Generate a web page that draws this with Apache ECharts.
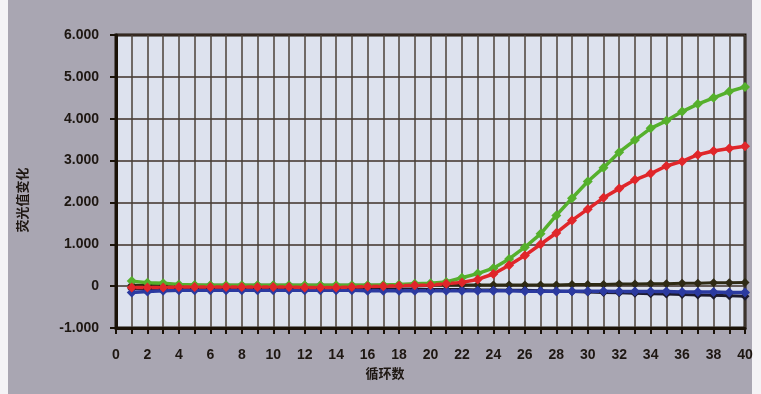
<!DOCTYPE html>
<html>
<head>
<meta charset="utf-8">
<script src="https://cdn.jsdelivr.net/npm/echarts@6/dist/echarts.min.js"></script>
<style>
  html, body { margin: 0; padding: 0; background: #fff; }
  #chart { width: 761px; height: 394px; }
</style>
</head>
<body>
<div id="chart"></div>
<script>
// cycle numbers (x) and fluorescence change per well (y)
const cycles = [1, 2, 3, 4, 5, 6, 7, 8, 9, 10, 11, 12, 13, 14, 15, 16, 17, 18, 19, 20,
  21, 22, 23, 24, 25, 26, 27, 28, 29, 30, 31, 32, 33, 34, 35, 36, 37, 38, 39, 40];

const greenVals = [120, 80, 70, 40, 30, 20, 20, 20, 20, 20, 20, 20, 20, 20, 20, 20, 30, 40, 60, 70,
  100, 200, 300, 430, 650, 930, 1250, 1690, 2100, 2500, 2830, 3200, 3490, 3770, 3950, 4170, 4350, 4500, 4650, 4760];

const redVals = [-30, -30, -30, -20, -20, -20, -20, -20, -20, -20, -20, -30, -30, -30, -20, -10, 0, 10, 20, 30,
  60, 90, 160, 290, 500, 730, 1000, 1270, 1570, 1840, 2110, 2330, 2540, 2690, 2870, 2980, 3140, 3230, 3290, 3340];

const blueVals = [-150, -130, -110, -100, -100, -100, -100, -100, -100, -100, -100, -100, -100, -100, -100, -110, -110, -110, -110, -110,
  -110, -110, -110, -110, -110, -120, -120, -120, -120, -120, -120, -130, -130, -130, -130, -140, -140, -140, -150, -150];

const darkUpVals = [20, 20, 20, 20, 20, 20, 20, 20, 20, 20, 20, 20, 20, 20, 20, 20, 20, 20, 30, 30,
  30, 30, 30, 30, 30, 30, 30, 30, 40, 40, 40, 50, 50, 60, 60, 70, 70, 80, 80, 90];

const darkDownVals = [-60, -60, -60, -60, -60, -60, -60, -60, -60, -60, -60, -60, -60, -60, -60, -60, -70, -70, -70, -80,
  -80, -80, -90, -90, -100, -100, -110, -120, -130, -140, -150, -160, -170, -180, -190, -200, -210, -220, -230, -240];

const yLabel = '荧光值变化';
const xLabel = '循环数';

const toPoints = vals => vals.map((v, i) => [cycles[i], v]);

const lineSeries = (vals, color, width, size) => ({
  type: 'line',
  data: toPoints(vals),
  symbol: 'diamond',
  symbolSize: size,
  showSymbol: true,
  lineStyle: { color, width },
  itemStyle: { color },
  emphasis: { disabled: true },
  animation: false,
});

const chart = echarts.init(document.getElementById('chart'));
const labelFont = { color: '#1e1712', fontSize: 14, fontWeight: 'bold', fontFamily: 'Liberation Sans, Arial, sans-serif' };

chart.setOption({
  backgroundColor: '#a9a6b2',
  animation: false,
  grid: {
    left: 116, right: 16, top: 35, bottom: 66,
    show: true, backgroundColor: '#dde2ee', borderColor: '#1a1208', borderWidth: 3,
  },
  xAxis: {
    type: 'value', min: 0, max: 40, interval: 1,
    axisLine: { show: true, onZero: false, lineStyle: { color: '#1a1208', width: 3 } },
    axisTick: { show: true, length: 6, lineStyle: { color: '#1a1208', width: 2 } },
    axisLabel: { ...labelFont, margin: 20, hideOverlap: false, formatter: v => (v % 2 === 0 ? String(v) : '') },
    splitLine: { show: true, lineStyle: { color: '#4a4038', width: 1.5 } },
  },
  yAxis: {
    type: 'value', min: -1000, max: 6000, interval: 1000,
    axisLine: { show: true, lineStyle: { color: '#1a1208', width: 3 } },
    axisTick: { show: true, length: 6, lineStyle: { color: '#1a1208', width: 2 } },
    axisLabel: { ...labelFont, margin: 17, formatter: v => (v === 0 ? '0' : (v / 1000).toFixed(3)) },
    splitLine: { show: true, lineStyle: { color: '#3e3028', width: 1.5 } },
  },
  graphic: [
    { type: 'rect', left: 0, top: 0, shape: { width: 8, height: 394 }, style: { fill: '#f4f3f6' }, z: -1 },
    { type: 'rect', right: 0, top: 0, shape: { width: 9, height: 394 }, style: { fill: '#f4f3f6' }, z: -1 },
    {
      type: 'text', x: 22, y: 200, rotation: Math.PI / 2,
      style: { text: yLabel, textAlign: 'center', textVerticalAlign: 'middle', fill: '#1e1712',
        font: 'bold 13px "Noto Sans CJK SC", sans-serif' },
    },
    {
      type: 'text', x: 385, y: 373,
      style: { text: xLabel, textAlign: 'center', textVerticalAlign: 'middle', fill: '#1e1712',
        font: 'bold 13px "Noto Sans CJK SC", sans-serif' },
    },
  ],
  series: [
    lineSeries(darkUpVals, '#2e2a14', 3, 9),
    lineSeries(darkDownVals, '#1c1a30', 3, 9),
    lineSeries(greenVals, '#55b02c', 3.5, 10),
    lineSeries(blueVals, '#2b3aa0', 3.5, 10),
    lineSeries(redVals, '#e0262a', 3.5, 10),
  ],
});
</script>
</body>
</html>
